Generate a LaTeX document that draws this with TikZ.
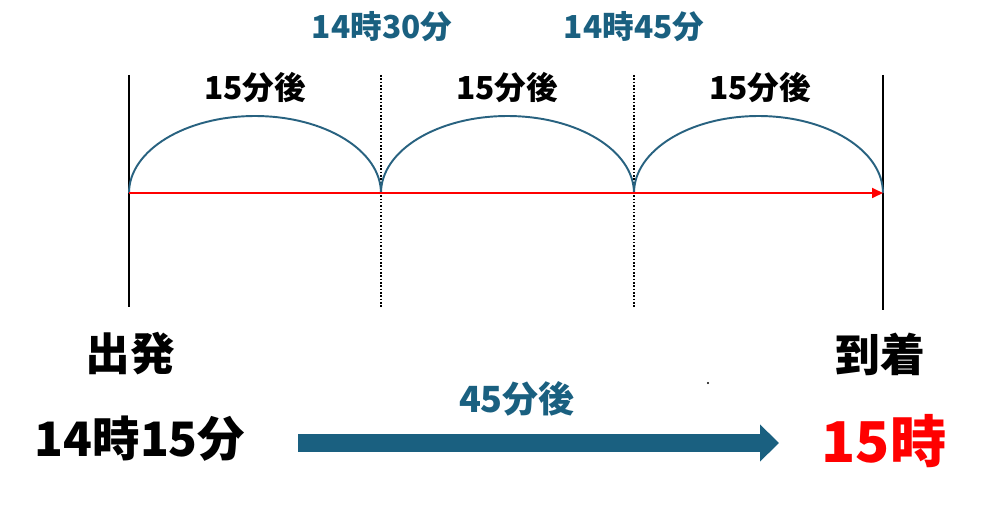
\documentclass[tikz,border=0pt]{standalone}
\usepackage{fontspec}
\setmainfont{Noto Sans CJK JP}
\usepackage{tikz}
\usetikzlibrary{arrows.meta}
\definecolor{steel}{RGB}{26,96,128}
\definecolor{arcblue}{RGB}{40,98,128}
\tikzstyle{tick} = [line width=1.1pt, black]
\tikzstyle{half} = [densely dotted, line width=0.9pt, black]
\tikzstyle{hop} = [line width=1.1pt, arcblue]
\tikzstyle{path} = [-{Triangle[length=2.2mm, width=2mm]}, line width=1pt, red]
\tikzstyle{span} = [font=\bfseries\fontsize{18pt}{18pt}\selectfont, inner sep=0pt]
\tikzstyle{clock} = [span, text=steel]
\tikzstyle{place} = [font=\bfseries\fontsize{25.5pt}{25.5pt}\selectfont, inner sep=0pt]
\tikzstyle{total} = [-{Triangle[length=3.8mm, width=7.2mm]}, line width=3.6mm, steel]

\begin{document}
\begin{tikzpicture}[x=0.02cm, y=-0.02cm]
    \useasboundingbox (0, 0) rectangle (1001, 513);

    % Ticks.
    \coordinate (start top) at (129, 75);
    \coordinate (start bottom) at (129, 307);
    \coordinate (first top) at (381, 75);
    \coordinate (first bottom) at (381, 307);
    \coordinate (second top) at (634, 75);
    \coordinate (second bottom) at (634, 307);
    \coordinate (end top) at (883, 75);
    \coordinate (end bottom) at (883, 310);

    \coordinate (start) at (129, 193);
    \coordinate (first) at (381, 193);
    \coordinate (second) at (634, 193);
    \coordinate (end) at (883, 193);

    \draw [tick] (start top) -- (start bottom);
    \draw [half] (first top) -- (first bottom);
    \draw [half] (second top) -- (second bottom);
    \draw [tick] (end top) -- (end bottom);

    % Hops.
    \draw [hop] (start) arc [start angle=180, end angle=0, x radius=2.52cm, y radius=1.54cm];
    \draw [hop] (first) arc [start angle=180, end angle=0, x radius=2.53cm, y radius=1.54cm];
    \draw [hop] (second) arc [start angle=180, end angle=0, x radius=2.49cm, y radius=1.54cm];
    \draw [path] (start) -- (end);

    % Labels.
    \node (hop 1) [span] at (255, 88) {15分後};
    \node (hop 2) [span] at (507, 88) {15分後};
    \node (hop 3) [span] at (760, 88) {15分後};
    \node (time 30) [clock] at (382, 27) {14時30分};
    \node (time 45) [clock] at (634, 27) {14時45分};

    % Bottom.
    \node (depart) [place] at (130, 354) {出発};
    \node (arrive) [place] at (880, 354) {到着};
    \node (depart time) [place, font=\bfseries\fontsize{27pt}{27pt}\selectfont] at (140, 439) {14時15分};
    \node (arrive time) [place, text=red, font=\bfseries\fontsize{32pt}{32pt}\selectfont] at (884, 441) {15時};

    \coordinate (total from) at (298, 443);
    \coordinate (total to) at (779, 443);
    \draw [total] (total from) -- (total to);
    \node (total label) [clock, font=\bfseries\fontsize{20.5pt}{20.5pt}\selectfont] at (517, 399) {45分後};

    \fill (708, 383) circle (0.6pt);
\end{tikzpicture}
\end{document}
